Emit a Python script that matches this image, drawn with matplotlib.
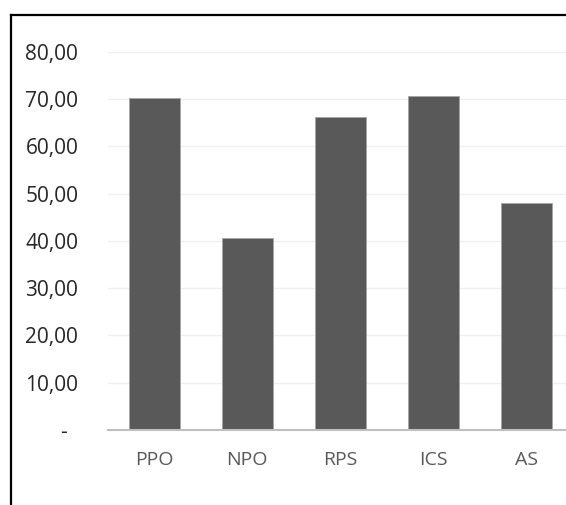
import matplotlib.pyplot as plt
from matplotlib.lines import Line2D
from matplotlib.ticker import FuncFormatter
import numpy as np

categories = ['PPO', 'NPO', 'RPS', 'ICS', 'AS']
values = [70.3, 40.7, 66.2, 70.6, 48.0]
yticks = [0, 10, 20, 30, 40, 50, 60, 70, 80]

plt.rcParams['font.family'] = ['Open Sans', 'DejaVu Sans']

fig = plt.figure(figsize=(5.66, 5.05), dpi=100)
ax = fig.add_axes([0.190, 0.1485, 0.810, 0.749])

x = np.arange(len(categories))
ax.bar(x, values, width=0.55, color='#595959', edgecolor='#a6a6a6', linewidth=0.6, zorder=3)

ax.set_xlim(-0.5, 4.42)
ax.set_ylim(0, 80)
ax.set_yticks(yticks)


def fmt(v, pos):
    if v == 0:
        return '-  '
    return f'{v:.2f}'.replace('.', ',')


ax.yaxis.set_major_formatter(FuncFormatter(fmt))
ax.set_xticks(x)
ax.set_xticklabels(categories)

ax.grid(axis='y', color='#efefef', linewidth=0.9, zorder=0)
for s in ['top', 'right', 'left']:
    ax.spines[s].set_visible(False)
ax.spines['bottom'].set_color('#bfbfbf')
ax.spines['bottom'].set_linewidth(1.5)
ax.spines['bottom'].set_zorder(4)

ax.tick_params(axis='y', length=0, pad=21, labelsize=15, labelcolor='#262626')
ax.tick_params(axis='x', length=0, pad=15, labelsize=14, labelcolor='#595959')

# outer chart border (partly cropped in the reference)
bx = 11 / 566
by = 1 - 15 / 505
fig.add_artist(Line2D([bx, bx], [0, by], color='black', linewidth=1.6, transform=fig.transFigure))
fig.add_artist(Line2D([bx, 1], [by, by], color='black', linewidth=1.6, transform=fig.transFigure))

fig.savefig('out.png', dpi=100)
